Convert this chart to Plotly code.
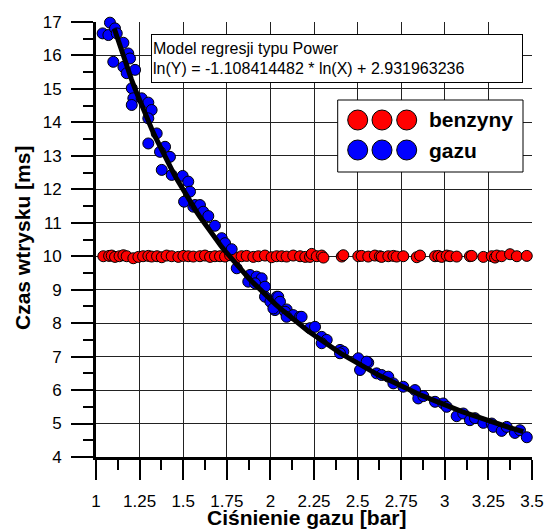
import plotly.graph_objects as go
import numpy as np

# ---- data ----
gas_x = [1.038, 1.071, 1.080, 1.109, 1.119, 1.099, 1.157, 1.185, 1.195, 1.157, 1.176, 1.224,
         1.205, 1.214, 1.205, 1.262, 1.300, 1.319, 1.300, 1.348, 1.300, 1.396, 1.367, 1.424,
         1.377, 1.434, 1.497, 1.529, 1.539, 1.505, 1.558, 1.568, 1.587, 1.596, 1.615, 1.644,
         1.682, 1.721, 1.740, 1.778, 1.807, 1.883, 1.873, 1.921, 1.950, 1.912, 1.969, 1.969,
         2.036, 2.000, 2.045, 2.055, 2.093, 2.026, 2.017, 2.084, 2.131, 2.170, 2.093, 2.179,
         2.227, 2.256, 2.294, 2.323, 2.294, 2.399, 2.418, 2.399, 2.504, 2.514, 2.561, 2.552,
         2.609, 2.638, 2.676, 2.705, 2.762, 2.829, 2.848, 2.877, 2.944, 2.991, 3.011, 3.068,
         3.106, 3.144, 3.173, 3.221, 3.269, 3.278, 3.326, 3.355, 3.402, 3.431, 3.470]
gas_y = [16.66, 16.61, 16.98, 16.81, 16.66, 15.81, 16.38, 16.06, 15.91, 15.66, 15.47, 15.57,
         15.02, 14.72, 14.52, 14.72, 14.59, 14.37, 14.12, 13.67, 13.37, 13.27, 13.12, 12.97,
         12.58, 12.43, 12.40, 12.23, 11.93, 11.63, 11.48, 11.53, 11.43, 11.53, 11.33, 11.20,
         10.91, 10.54, 10.39, 10.21, 9.64, 9.44, 9.24, 9.39, 9.34, 9.19, 9.09, 8.79,
         8.79, 8.64, 8.79, 8.64, 8.41, 8.39, 8.44, 8.34, 8.24, 8.19, 8.19, 8.19,
         7.85, 7.89, 7.59, 7.50, 7.40, 7.20, 7.15, 7.10, 6.95, 6.60, 6.82, 6.85,
         6.50, 6.45, 6.40, 6.20, 6.10, 6.00, 5.75, 5.82, 5.65, 5.60, 5.50, 5.22,
         5.30, 5.10, 5.16, 5.02, 5.00, 4.90, 4.78, 4.90, 4.72, 4.80, 4.59]

petrol_x = [1.042, 1.075, 1.090, 1.109, 1.135, 1.157, 1.176, 1.214, 1.243, 1.270, 1.300, 1.319,
            1.350, 1.377, 1.405, 1.434, 1.472, 1.501, 1.529, 1.558, 1.596, 1.625, 1.654, 1.682,
            1.711, 1.740, 1.769, 1.807, 1.835, 1.864, 1.902, 1.931, 1.969, 2.007, 2.036, 2.065,
            2.093, 2.131, 2.170, 2.200, 2.227, 2.237, 2.266, 2.294, 2.304, 2.409, 2.418, 2.504,
            2.523, 2.561, 2.599, 2.628, 2.638, 2.676, 2.705, 2.724, 2.762, 2.839, 2.858, 2.944,
            2.963, 2.982, 3.011, 3.030, 3.068, 3.144, 3.154, 3.221, 3.269, 3.288, 3.298, 3.326,
            3.374, 3.413, 3.470, 3.527, 3.540]
petrol_y = [10.00, 10.01, 10.02, 9.98, 10.00, 10.03, 10.00, 9.94, 9.98, 10.00, 10.01, 9.99,
            10.00, 9.97, 10.02, 10.00, 9.98, 10.01, 10.00, 9.99, 10.00, 10.02, 9.98, 10.00,
            10.00, 9.99, 10.03, 9.96, 10.00, 10.01, 9.98, 10.00, 10.02, 9.97, 10.00, 10.00,
            9.99, 10.02, 10.00, 9.98, 9.98, 10.07, 10.00, 10.02, 9.96, 9.99, 10.03, 10.00,
            10.01, 9.99, 10.02, 10.00, 9.98, 10.00, 10.01, 9.99, 10.00, 9.97, 10.02, 10.00,
            10.01, 9.98, 10.02, 10.00, 9.99, 10.00, 10.01, 9.98, 10.00, 9.96, 10.02, 10.00,
            10.06, 10.00, 10.01, 9.98, 10.00]

fit_a = -1.108414482
fit_b = 2.931963236
fit_x = np.linspace(1.105, 3.45, 120)
fit_y = np.exp(fit_a * np.log(fit_x) + fit_b)

x_ticks = [1, 1.25, 1.5, 1.75, 2, 2.25, 2.5, 2.75, 3, 3.25, 3.5]
x_tick_text = ["1", "1.25", "1.5", "1.75", "2", "2.25", "2.5", "2.75", "3", "3.25", "3.5"]

FONT = "Liberation Sans, Arial, sans-serif"

# plot-area pixel geometry
L, R, T, B = 96, 532, 22, 457
W, H = R - L, B - T


def px(xp):
    return (xp - L) / W


def py(yp):
    return (B - yp) / H


fig = go.Figure()
fig.add_trace(go.Scatter(x=petrol_x, y=petrol_y, mode="markers", cliponaxis=False,
                         marker=dict(size=11, color="#FF0000", line=dict(color="black", width=1)),
                         showlegend=False))
fig.add_trace(go.Scatter(x=gas_x, y=gas_y, mode="markers", cliponaxis=False,
                         marker=dict(size=11, color="#0000FF", line=dict(color="black", width=1)),
                         showlegend=False))
fig.add_trace(go.Scatter(x=fit_x, y=fit_y, mode="lines", cliponaxis=False,
                         line=dict(color="black", width=5), showlegend=False))

fig.update_layout(
    width=547, height=529,
    margin=dict(l=L, r=547 - R, t=T, b=529 - B, autoexpand=False),
    paper_bgcolor="white", plot_bgcolor="white",
    font=dict(family=FONT, size=17, color="black"),
    xaxis=dict(range=[1, 3.5], tickvals=x_ticks, ticktext=x_tick_text, automargin=False,
               showgrid=True, gridcolor="#222", gridwidth=1,
               showline=True, linecolor="black", linewidth=3,
               ticks="outside", ticklen=20, tickwidth=2, tickcolor="black",
               ticklabelstandoff=7, zeroline=False,
               minor=dict(dtick=0.125, tick0=1, ticks="outside", ticklen=10, tickwidth=2,
                          tickcolor="black", showgrid=False)),
    yaxis=dict(range=[4, 17], dtick=1, tick0=4, automargin=False,
               showgrid=True, gridcolor="#222", gridwidth=1,
               showline=True, linecolor="black", linewidth=3,
               ticks="outside", ticklen=22, tickwidth=2, tickcolor="black",
               ticklabelstandoff=6, zeroline=False,
               minor=dict(dtick=0.5, tick0=4, ticks="outside", ticklen=10, tickwidth=2,
                          tickcolor="black", showgrid=False)),
)

# axis titles
fig.add_annotation(xref="paper", yref="paper", x=px(307), y=py(517), showarrow=False,
                   xanchor="center", yanchor="middle",
                   text="<b>Ciśnienie gazu [bar]</b>", font=dict(size=21))
fig.add_annotation(xref="paper", yref="paper", x=px(22), y=py(238), showarrow=False,
                   xanchor="center", yanchor="middle", textangle=-90,
                   text="<b>Czas wtrysku [ms]</b>", font=dict(size=21))

# regression annotation box
fig.add_annotation(xref="paper", yref="paper", x=px(150.7), y=py(34.3),
                   xanchor="left", yanchor="top", showarrow=False, align="left",
                   text="Model regresji typu Power<br>ln(Y) = -1.108414482 * ln(X) + 2.931963236",
                   font=dict(size=16), bgcolor="white", bordercolor="black", borderwidth=1,
                   borderpad=1, width=368, height=45)

# custom legend
fig.add_shape(type="rect", xref="paper", yref="paper",
              x0=px(337.7), x1=px(523), y0=py(172), y1=py(100),
              fillcolor="white", line=dict(color="black", width=1), layer="above")
legend_items = [("benzyny", "#FF0000", 120), ("gazu", "#0000FF", 150)]
for label, col, ypix in legend_items:
    yc = py(ypix)
    for xpix in [357.7, 382.0, 406.7]:
        fig.add_shape(type="circle", xref="paper", yref="paper",
                      xsizemode="pixel", ysizemode="pixel", xanchor=px(xpix), yanchor=yc,
                      x0=-10, x1=10, y0=-10, y1=10,
                      fillcolor=col, line=dict(color="black", width=1), layer="above")
    fig.add_annotation(xref="paper", yref="paper", x=px(427), y=yc,
                       xanchor="left", yanchor="middle", showarrow=False,
                       text=f"<b>{label}</b>", font=dict(size=21))

fig.write_html("out.html")
